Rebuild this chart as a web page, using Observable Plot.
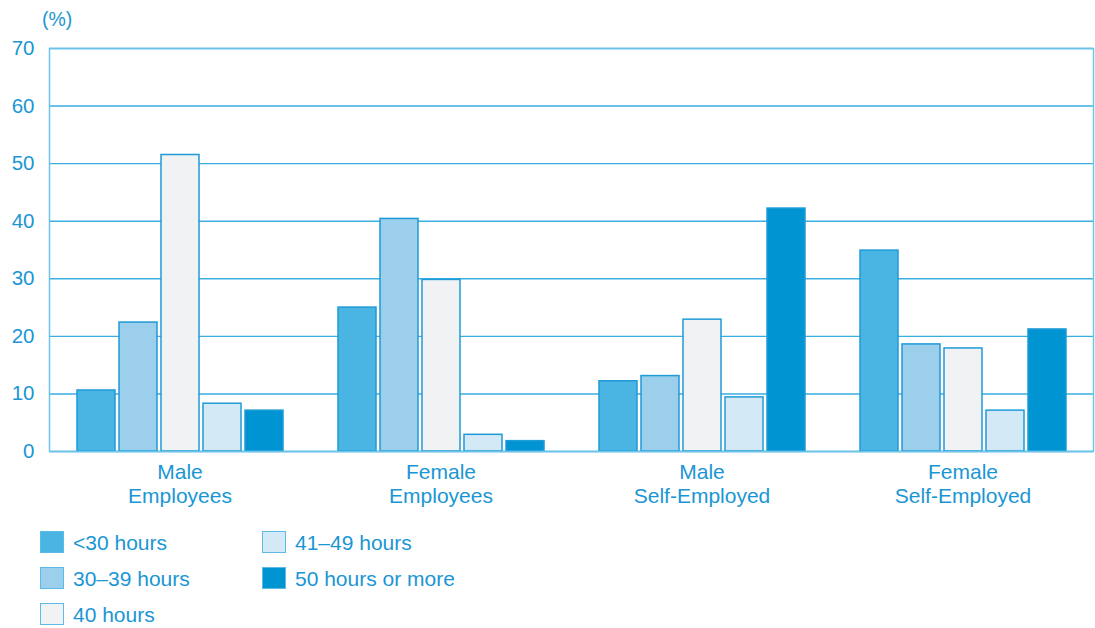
<!DOCTYPE html>
<html>
<head>
<meta charset="utf-8">
<script src="https://cdn.jsdelivr.net/npm/d3@7"></script>
<script src="https://cdn.jsdelivr.net/npm/@observablehq/plot@0.6"></script>
<style>
  body { margin: 0; background: #fff; font-family: "Liberation Sans", Arial, sans-serif; color: #1a96d4; }
  #wrap { position: relative; width: 1095px; height: 628px; }
  #unit { position: absolute; left: 42px; top: 8px; font-size: 19.5px; }
  #legend { position: absolute; left: 40px; top: 531px; display: grid; grid-template-columns: 222px 240px; grid-auto-flow: column; grid-template-rows: repeat(3, 36px); }
  .item { display: flex; align-items: flex-start; font-size: 21px; line-height: 26px; }
  .sw { width: 22px; height: 20px; margin-right: 9px; border: 1px solid #5bbbe6; }
  .item span:last-child { margin-top: -1px; }
</style>
</head>
<body>
<div id="wrap">
  <div id="chart"></div>
  <div id="unit">(%)</div>
  <div id="legend"></div>
</div>
<script>
const categories = ["Male\nEmployees", "Female\nEmployees", "Male\nSelf-Employed", "Female\nSelf-Employed"];
const series = ["<30 hours", "30–39 hours", "40 hours", "41–49 hours", "50 hours or more"];
const under30 = [10.6, 25.0, 12.2, 34.9];
const h30to39 = [22.4, 40.4, 13.1, 18.6];
const h40 = [51.5, 29.8, 22.9, 17.9];
const h41to49 = [8.3, 2.9, 9.4, 7.1];
const h50plus = [7.1, 1.8, 42.2, 21.2];
const yTicks = [0, 10, 20, 30, 40, 50, 60, 70];
const colors = ["#4ab4e2", "#9bcfec", "#f1f2f4", "#d3e9f6", "#0095d2"];

const valuesBySeries = [under30, h30to39, h40, h41to49, h50plus];
const data = [];
categories.forEach((c, i) => series.forEach((s, j) => data.push({cat: c, series: s, value: valuesBySeries[j][i]})));

const textColor = "#1a96d4";
const chart = Plot.plot({
  width: 1095,
  height: 515,
  marginTop: 48,
  marginBottom: 64,
  marginLeft: 48,
  marginRight: 2,
  style: {color: textColor, fontFamily: "'Liberation Sans', Arial, sans-serif", fontSize: "20px", background: "#fff"},
  fx: {domain: categories, padding: 0, label: null},
  x: {domain: series, paddingInner: 0.1, paddingOuter: 0.6, axis: null},
  y: {domain: [0, 70], label: null},
  color: {domain: series, range: colors},
  marks: [
    Plot.ruleY(yTicks.slice(1), {stroke: "#3aaee0", strokeWidth: 1.4}),
    Plot.barY(data, {fx: "cat", x: "series", y: "value", fill: "series", stroke: "#1f9bd7", strokeWidth: 1.5}),
    Plot.ruleY([0], {stroke: "#1b9ad6", strokeWidth: 1.6}),
    Plot.frame({facet: "super", stroke: "#6cc4ea", strokeWidth: 1.5}),
    Plot.axisY({ticks: yTicks, tickSize: 0, tickPadding: 15, label: null, fontSize: 20.5}),
    Plot.axisFx({anchor: "bottom", tickSize: 0, tickPadding: 10, label: null, lineHeight: 1.15, fontSize: 21})
  ]
});
document.getElementById("chart").appendChild(chart);

const legend = document.getElementById("legend");
series.forEach((s, j) => {
  const it = document.createElement("div");
  it.className = "item";
  const sw = document.createElement("span");
  sw.className = "sw";
  sw.style.background = colors[j];
  it.appendChild(sw);
  const t = document.createElement("span");
  t.textContent = s;
  it.appendChild(t);
  legend.appendChild(it);
});
</script>
</body>
</html>
